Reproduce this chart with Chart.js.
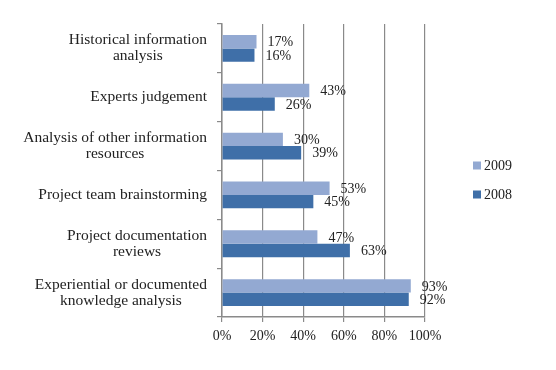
<!DOCTYPE html>
<html>
<head>
<meta charset="utf-8">
<script src="https://cdn.jsdelivr.net/npm/chart.js@4/dist/chart.umd.min.js"></script>
<style>
  html, body { margin: 0; padding: 0; background: #fff; }
  #wrap { width: 556px; height: 370px; position: relative; }
</style>
</head>
<body>
<div id="wrap"><canvas id="barChart"></canvas></div>
<script>
// Chart data
const categories = [
  ['Historical information', 'analysis'],
  'Experts judgement',
  ['Analysis of other information', 'resources'],
  'Project team brainstorming',
  ['Project documentation', 'reviews'],
  ['Experiential or documented', 'knowledge analysis']
];
const values2009 = [17, 43, 30, 53, 47, 93];
const values2008 = [16, 26, 39, 45, 63, 92];
const xTicks = [0, 20, 40, 60, 80, 100];

const serif = '"Liberation Serif", "DejaVu Serif", serif';
const textColor = '#222';

// value labels to the right of each bar
const barLabels = {
  id: 'barLabels',
  afterDatasetsDraw(chart) {
    const ctx = chart.ctx;
    ctx.save();
    ctx.font = '14px ' + serif;
    ctx.fillStyle = textColor;
    ctx.textAlign = 'left';
    ctx.textBaseline = 'middle';
    chart.data.datasets.forEach((ds, i) => {
      chart.getDatasetMeta(i).data.forEach((bar, j) => {
        ctx.fillText(ds.data[j] + '%', bar.x + 11, bar.y + 1);
      });
    });
    ctx.restore();
  }
};

// category labels: block right-aligned to the axis, lines centred inside the block
const categoryLabels = {
  id: 'categoryLabels',
  afterDraw(chart) {
    const ctx = chart.ctx;
    const yScale = chart.scales.y;
    const lineH = 16;
    ctx.save();
    ctx.font = '15.5px ' + serif;
    ctx.fillStyle = textColor;
    ctx.textAlign = 'center';
    ctx.textBaseline = 'middle';
    chart.data.labels.forEach((lab, i) => {
      const lines = Array.isArray(lab) ? lab : [lab];
      const w = Math.max(...lines.map(l => ctx.measureText(l).width));
      const cx = yScale.right - 15 - w / 2;
      const y0 = yScale.getPixelForTick(i) - (lines.length - 1) * lineH / 2;
      lines.forEach((l, k) => ctx.fillText(l, cx, y0 + k * lineH));
    });
    ctx.restore();
  }
};

// legend on the right, next to the plot
const sideLegend = {
  id: 'sideLegend',
  afterDraw(chart) {
    const ctx = chart.ctx;
    const area = chart.chartArea;
    const x = area.right + 48;
    const yMid = (area.top + area.bottom) / 2;
    ctx.save();
    ctx.font = '14px ' + serif;
    ctx.textAlign = 'left';
    ctx.textBaseline = 'middle';
    chart.data.datasets.forEach((ds, i) => {
      const y = yMid - 5 + i * 29;
      ctx.fillStyle = ds.backgroundColor;
      ctx.fillRect(x, y - 4, 8, 8);
      ctx.fillStyle = textColor;
      ctx.fillText(ds.label, x + 11, y + 1);
    });
    ctx.restore();
  }
};

const ctx = document.getElementById('barChart').getContext('2d');
new Chart(ctx, {
  type: 'bar',
  data: {
    labels: categories,
    datasets: [
      {
        label: '2009',
        data: values2009,
        backgroundColor: '#93a9d2',
        borderWidth: 0
      },
      {
        label: '2008',
        data: values2008,
        backgroundColor: '#3f6fa8',
        borderWidth: 0
      }
    ]
  },
  options: {
    indexAxis: 'y',
    responsive: true,
    maintainAspectRatio: false,
    animation: false,
    layout: { padding: { top: 24, right: 131, left: 0, bottom: 0 } },
    datasets: { bar: { barPercentage: 1, categoryPercentage: 0.55 } },
    scales: {
      x: {
        min: 0,
        max: 100,
        afterBuildTicks: s => { s.ticks = xTicks.map(v => ({ value: v })); },
        afterFit: s => { s.height = 53; },
        border: { color: '#8a8a8a', width: 1.5 },
        grid: { color: '#8a8a8a', lineWidth: 1.2, tickLength: 5 },
        ticks: {
          callback: v => v + '%',
          color: textColor,
          padding: 6,
          font: { family: serif, size: 14 }
        }
      },
      y: {
        afterFit: s => { s.width = 222; },
        border: { color: '#8a8a8a', width: 1.5 },
        grid: { offset: true, drawOnChartArea: false, color: '#8a8a8a', lineWidth: 1.2, tickLength: 5 },
        ticks: { display: false }
      }
    },
    plugins: {
      legend: { display: false },
      tooltip: { enabled: false }
    }
  },
  plugins: [barLabels, categoryLabels, sideLegend]
});
</script>
</body>
</html>
